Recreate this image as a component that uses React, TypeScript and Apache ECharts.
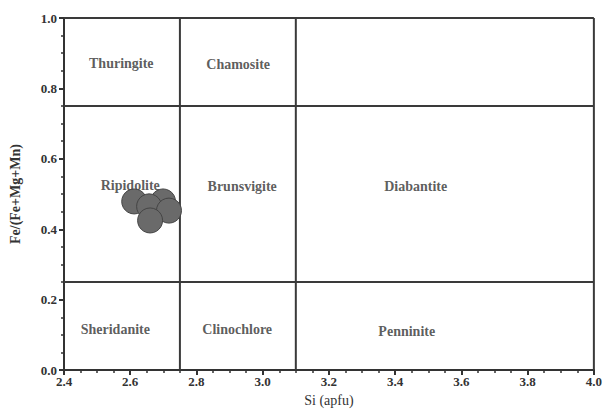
import React, { useEffect, useRef } from "react";
import * as echarts from "echarts";

const pointsSi = [2.612, 2.699, 2.657, 2.717, 2.66];
const pointsFe = [0.479, 0.479, 0.465, 0.453, 0.425];

const fieldNames = ["Thuringite", "Chamosite", "Ripidolite", "Brunsvigite", "Diabantite", "Sheridanite", "Clinochlore", "Penninite"];
const fieldSi = [2.573, 2.926, 2.6, 2.938, 3.462, 2.555, 2.923, 3.435];
const fieldFe = [0.87, 0.867, 0.524, 0.521, 0.521, 0.116, 0.116, 0.11];

// boundary segments: [x1, y1, x2, y2]
const boundaries = [
  [2.4, 0.75, 4.0, 0.75],
  [2.4, 0.25, 4.0, 0.25],
  [2.75, 0, 2.75, 1.0],
  [3.1, 0, 3.1, 1.0],
  [2.4, 1.0, 4.0, 1.0],
  [4.0, 0, 4.0, 1.0],
];

const FONT = "'Liberation Serif', 'Times New Roman', serif";

export default function App() {
  const ref = useRef<HTMLDivElement>(null);
  useEffect(() => {
    if (!ref.current) return;
    const chart = echarts.init(ref.current, undefined, { renderer: "svg" });
    const lineSeries = boundaries.map((b) => ({
      type: "line",
      data: [
        [b[0], b[1]],
        [b[2], b[3]],
      ],
      symbol: "none",
      lineStyle: { color: "#3a3a3a", width: 2 },
      silent: true,
      z: 1,
    }));
    chart.setOption({
      animation: false,
      grid: { left: 63, right: 7, top: 18, bottom: 41 },
      xAxis: {
        type: "value",
        min: 2.4,
        max: 4.0,
        interval: 0.2,
        name: "Si (apfu)",
        nameLocation: "middle",
        nameGap: 22,
        nameTextStyle: { fontFamily: FONT, fontSize: 14, color: "#333" },
        axisLine: { show: true, onZero: false, lineStyle: { color: "#333", width: 2 } },
        axisTick: { show: true, length: 5, lineStyle: { color: "#333", width: 2 } },
        minorTick: { show: true, splitNumber: 4, length: 3, lineStyle: { color: "#333", width: 1.5 } },
        splitLine: { show: false },
        axisLabel: {
          formatter: (v: number) => v.toFixed(1),
          fontFamily: FONT,
          fontWeight: "bold",
          fontSize: 13,
          color: "#333",
          margin: 5,
        },
      },
      yAxis: {
        type: "value",
        min: 0,
        max: 1.0,
        interval: 0.2,
        name: "Fe/(Fe+Mg+Mn)",
        nameLocation: "middle",
        nameGap: 42,
        nameTextStyle: { fontFamily: FONT, fontSize: 14, fontWeight: "bold", color: "#333" },
        axisLine: { show: true, onZero: false, lineStyle: { color: "#333", width: 2 } },
        axisTick: { show: true, length: 5, lineStyle: { color: "#333", width: 2 } },
        minorTick: { show: true, splitNumber: 4, length: 3, lineStyle: { color: "#333", width: 1.5 } },
        splitLine: { show: false },
        axisLabel: {
          formatter: (v: number) => v.toFixed(1),
          fontFamily: FONT,
          fontWeight: "bold",
          fontSize: 13,
          color: "#333",
          margin: 7,
        },
      },
      series: [
        ...lineSeries,
        {
          type: "scatter",
          data: fieldNames.map((n, i) => ({ value: [fieldSi[i], fieldFe[i]], name: n })),
          symbol: "circle",
          symbolSize: 2,
          itemStyle: { color: "rgba(0,0,0,0)" },
          label: {
            show: true,
            position: "inside",
            formatter: "{b}",
            fontFamily: FONT,
            fontWeight: "bold",
            fontSize: 14,
            color: "#333",
          },
          labelLayout: { hideOverlap: false },
          silent: true,
          z: 2,
        },
        {
          type: "scatter",
          data: pointsSi.map((x, i) => [x, pointsFe[i]]),
          symbol: "circle",
          symbolSize: 25,
          itemStyle: { color: "#6a6a6a", borderColor: "#444", borderWidth: 1, opacity: 1 },
          z: 3,
        },
      ],
    });
    return () => chart.dispose();
  }, []);
  return <div ref={ref} style={{ width: 605, height: 412, position: "absolute", left: 0, top: 0 }} />;
}
